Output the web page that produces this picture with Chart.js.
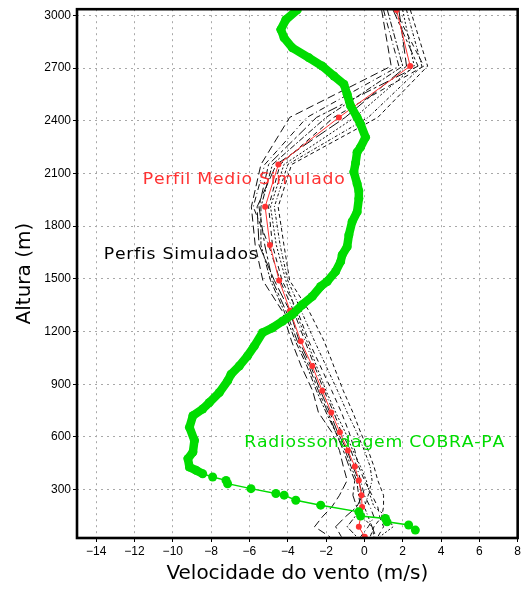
<!DOCTYPE html>
<html><head><meta charset="utf-8">
<script src="https://cdn.jsdelivr.net/npm/chart.js@4"></script>
<style>html,body{margin:0;padding:0;background:#fff}canvas{display:block}</style>
</head><body>
<canvas id="c" width="523" height="592"></canvas>
<script>
// ---- data ----
const levels = [3030, 2711, 2419, 2151, 1910, 1693, 1491, 1319, 1145, 1004, 863, 740, 627, 523, 432, 353, 268, 202, 145, 89, 32];
const meanProfile = [1.68, 2.39, -1.33, -4.49, -5.18, -4.93, -4.45, -3.88, -3.32, -2.72, -2.20, -1.73, -1.28, -0.86, -0.50, -0.29, -0.15, -0.12, -0.20, -0.29, 0.02];
const sim1 = [0.9, 1.4, -3.9, -5.4, -5.9, -5.7, -5.3, -4.3, -3.8, -3.3, -2.7, -2.4, -1.7, -1.3, -1.1, -0.9, -1.3, -1.7, -2.2, -2.6, -1.8];
const sim2 = [2.4, 3.3, 0.7, -3.8, -4.5, -4.2, -3.9, -2.9, -2.1, -1.6, -1.1, -0.6, -0.2, 0.2, 0.5, 0.7, 1.0, 1.0, 0.9, 0.5, 0.3];
const sim3 = [1.5, 2.8, -2.5, -5.0, -5.5, -5.2, -4.8, -4.1, -3.5, -2.9, -2.4, -1.9, -1.5, -1.1, -0.8, -0.5, -0.6, -0.4, -0.1, 0.4, 0.6];
const sim4 = [2.0, 2.6, -0.5, -4.2, -4.9, -4.6, -4.1, -3.6, -3.0, -2.5, -2.0, -1.5, -1.0, -0.6, -0.2, 0.1, 0.3, 0.5, 1.2, 1.5, 0.8];
const sim5 = [1.2, 2.0, -2.0, -4.8, -5.4, -5.4, -4.9, -4.2, -3.6, -3.0, -2.5, -2.0, -1.5, -1.0, -0.7, -0.4, -0.3, -0.2, -0.5, -0.9, -0.4];
const sim6 = [2.2, 3.0, 0.2, -4.0, -4.7, -4.4, -4.0, -3.3, -2.6, -2.0, -1.4, -0.9, -0.4, 0.0, 0.3, 0.4, 0.2, 0.0, 0.2, 0.4, 0.5];
const sim7 = [1.8, 2.2, -1.0, -4.6, -5.6, -5.5, -4.7, -3.9, -3.4, -2.8, -2.3, -1.8, -1.4, -0.9, -0.6, -0.3, -0.1, -0.4, -1.0, -1.5, -1.2];
const sim8 = [1.0, 1.8, -3.0, -5.2, -5.8, -5.0, -4.4, -3.7, -3.1, -2.6, -2.1, -1.6, -1.2, -0.7, -0.4, -0.2, 0.0, 0.3, 0.5, 0.2, -0.2];
const sim9 = [1.6, 3.1, -1.6, -4.4, -5.0, -4.8, -4.3, -3.5, -2.9, -2.3, -1.7, -1.2, -0.8, -0.5, -0.3, 0.0, 0.4, 0.7, 0.8, 1.0, 0.7];
const simProfiles = [sim1, sim2, sim3, sim4, sim5, sim6, sim7, sim8, sim9];

const radioSpeed = [-3.5, -4.1, -4.36, -4.19, -3.76, -2.89, -2.2, -1.59, -1.07, -0.9, -0.72, -0.38, -0.2, 0.06, -0.2, -0.38, -0.46, -0.55, -0.38, -0.29, -0.29, -0.38, -0.64, -0.81, -0.9, -1.16, -1.24, -1.5, -1.94, -2.28, -2.72, -3.24, -3.76, -4.28, -4.8, -5.32, -5.75, -6.1, -6.53, -6.96, -7.14, -7.57, -8.09, -8.44, -8.95, -9.13, -8.87, -8.95, -9.21, -9.13, -8.78, -8.44, -7.92, -7.22, -7.14, -5.92, -4.62, -4.19, -3.58, -2.28, -0.29, -0.2, 1.1, 1.18, 2.31, 2.66];
const radioHeight = [3032, 2975, 2919, 2872, 2815, 2758, 2711, 2655, 2608, 2551, 2485, 2419, 2380, 2306, 2250, 2221, 2160, 2108, 2042, 2000, 1957, 1881, 1825, 1750, 1683, 1636, 1598, 1542, 1485, 1457, 1400, 1353, 1297, 1259, 1221, 1193, 1117, 1061, 1004, 957, 919, 853, 796, 759, 721, 655, 580, 514, 476, 429, 410, 391, 372, 353, 334, 306, 278, 269, 240, 212, 174, 150, 136, 117, 99, 70];

const xTicks = [-14, -12, -10, -8, -6, -4, -2, 0, 2, 4, 6, 8];
const yTicks = [300, 600, 900, 1200, 1500, 1800, 2100, 2400, 2700, 3000];
const labelMean = 'Perfil Medio Simulado';
const labelSims = 'Perfis Simulados';
const labelRadio = 'Radiossondagem COBRA-PA';

// ---- chart ----
const GREEN = 'rgb(0,220,0)';
const RED = 'rgb(255,50,50)';
const pts = (xs, ys) => xs.map((v, i) => ({x: v, y: ys[i]}));
const dashes = [[8,4],[4,3],[10,3,3,3],[2,2],[6,2,2,2],[3,2,1,2],[12,4],[6,3,1,3],[5,4]];

const datasets = [
  {
    label: labelRadio,
    data: pts(radioSpeed, radioHeight),
    borderColor: GREEN, backgroundColor: GREEN,
    pointRadius: 4.5, pointBorderWidth: 0, pointHoverRadius: 4.5,
    showLine: true, tension: 0,
    segment: { borderWidth: ctx => (radioHeight[ctx.p1DataIndex] >= 385 ? 8.5 : 1.5) },
    borderWidth: 1.5
  },
  {
    label: labelMean,
    data: pts(meanProfile, levels),
    borderColor: RED, backgroundColor: RED,
    borderWidth: 1, pointRadius: 3, pointBorderWidth: 0,
    showLine: true, tension: 0
  }
];
simProfiles.forEach((s, i) => datasets.push({
  label: labelSims + ' ' + (i + 1),
  data: pts(s, levels),
  borderColor: '#111', borderWidth: 1, borderDash: dashes[i],
  pointRadius: 0, showLine: true, tension: 0
}));

// draws text stretched horizontally (GrADS-like wide glyphs) to a target width
function drawWide(ctx, text, x, y, target) {
  const sx = 1.15;
  let w = 0;
  for (const ch of text) w += ctx.measureText(ch).width * sx;
  const ls = (target - w) / (text.length - 1);
  let cx = x;
  for (const ch of text) {
    ctx.save();
    ctx.translate(cx, y); ctx.scale(sx, 1);
    ctx.fillText(ch, 0, 0);
    ctx.restore();
    cx += ctx.measureText(ch).width * sx + ls;
  }
}

const overlay = {
  id: 'overlay',
  afterDatasetsDraw(chart) {
    const {ctx, chartArea: a, scales: {x, y}} = chart;
    ctx.save();
    ctx.strokeStyle = '#000'; ctx.lineWidth = 2.6;
    ctx.strokeRect(a.left, a.top, a.right - a.left, a.bottom - a.top);
    ctx.font = '15px "DejaVu Sans"';
    ctx.textBaseline = 'middle'; ctx.textAlign = 'left';
    ctx.fillStyle = RED;
    drawWide(ctx, labelMean, x.getPixelForValue(-11.57), y.getPixelForValue(2062), 202);
    ctx.fillStyle = '#000';
    drawWide(ctx, labelSims, x.getPixelForValue(-13.6), y.getPixelForValue(1638), 154);
    ctx.fillStyle = GREEN;
    drawWide(ctx, labelRadio, x.getPixelForValue(-6.27), y.getPixelForValue(563), 260);
    ctx.restore();
  }
};

new Chart(document.getElementById('c'), {
  type: 'scatter',
  data: { datasets },
  options: {
    responsive: false, animation: false,
    devicePixelRatio: 1,
    layout: { padding: { top: 6, right: 3, left: 0, bottom: 0 } },
    plugins: { legend: { display: false }, tooltip: { enabled: false } },
    scales: {
      x: {
        type: 'linear', min: -15, max: 8,
        afterBuildTicks: s => { s.ticks = xTicks.map(v => ({value: v})); },
        afterFit: s => { s.height = 54; },
        grid: { color: '#a8a8a8', lineWidth: 1, tickColor: '#000', tickLength: 4, tickBorderDash: [], tickWidth: 1 },
        border: { display: false, dash: [2, 4] },
        ticks: { color: '#000', font: { family: 'Liberation Sans', size: 12 }, padding: 2, maxRotation: 0,
                 callback: v => String(v).replace('-', '\u2212') },
        title: { display: true, text: 'Velocidade do vento (m/s)', color: '#000',
                 font: { family: 'DejaVu Sans', size: 20 }, padding: { top: 0, bottom: 6 } }
      },
      y: {
        type: 'linear', min: 25, max: 3035,
        afterBuildTicks: s => { s.ticks = yTicks.map(v => ({value: v})); },
        afterFit: s => { s.width = 77; },
        grid: { color: '#a8a8a8', lineWidth: 1, tickColor: '#000', tickLength: 4, tickBorderDash: [], tickWidth: 1 },
        border: { display: false, dash: [2, 4] },
        ticks: { color: '#000', font: { family: 'Liberation Sans', size: 12 }, padding: 2,
                 callback: v => String(v) },
        title: { display: true, text: 'Altura (m)', color: '#000',
                 font: { family: 'DejaVu Sans', size: 20 }, padding: { top: 13, bottom: 0 } }
      }
    }
  },
  plugins: [overlay]
});
</script>
</body></html>
